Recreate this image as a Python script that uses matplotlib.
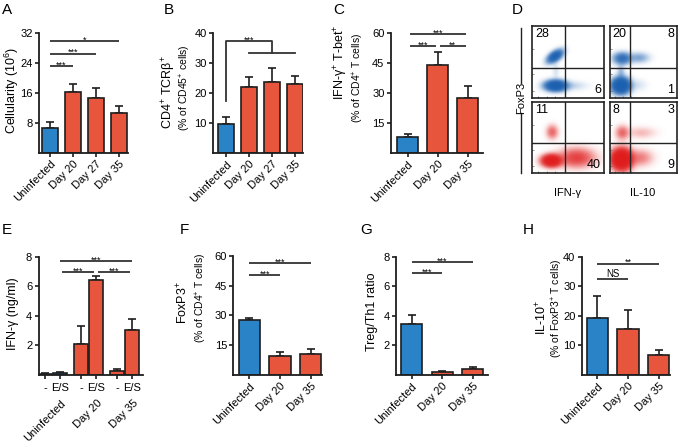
import matplotlib
matplotlib.use('Agg')
import matplotlib.pyplot as plt
import numpy as np
from matplotlib.colors import to_rgb
from matplotlib.transforms import blended_transform_factory

plt.rcParams['font.family'] = ['Liberation Sans', 'DejaVu Sans']
plt.rcParams['mathtext.fontset'] = 'custom'
plt.rcParams['mathtext.rm'] = 'Liberation Sans'
plt.rcParams['mathtext.it'] = 'Liberation Sans:italic'
plt.rcParams['mathtext.default'] = 'regular'

# ---------------- data ----------------
cats4 = ['Uninfected', 'Day 20', 'Day 27', 'Day 35']
cats3 = ['Uninfected', 'Day 20', 'Day 35']

a_vals = [6.5, 16.2, 14.7, 10.5]
a_errs = [1.6, 2.1, 2.7, 2.0]
a_yticks = [8, 16, 24, 32]

b_vals = [9.6, 22.0, 23.6, 23.0]
b_errs = [2.4, 3.2, 4.6, 2.5]
b_yticks = [10, 20, 30, 40]

c_vals = [8.2, 43.9, 27.4]
c_errs = [1.5, 6.6, 6.4]
c_yticks = [15, 30, 45, 60]

e_groups = ['Uninfected', 'Day 20', 'Day 35']
e_stim = ['-', 'E/S']
e_minus = [0.05, 2.1, 0.25]
e_minus_err = [0.03, 1.2, 0.12]
e_es = [0.10, 6.4, 3.0]
e_es_err = [0.06, 0.3, 0.8]
e_yticks = [2, 4, 6, 8]

f_vals = [27.6, 9.6, 10.6]
f_errs = [1.3, 1.9, 2.4]
f_yticks = [15, 30, 45, 60]

g_vals = [3.46, 0.20, 0.42]
g_errs = [0.62, 0.05, 0.12]
g_yticks = [2, 4, 6, 8]

h_vals = [19.3, 15.5, 6.8]
h_errs = [7.5, 6.5, 1.5]
h_yticks = [10, 20, 30, 40]

# significance: (from index, to index, height, label)
a_sig = [(0, 1, 23.2, '***'), (0, 2, 26.5, '***'), (0, 3, 29.8, '*')]
c_sig = [(0, 1, 53.8, '***'), (1, 2, 53.8, '**'), (0, 2, 59.5, '***')]
e_sig = [(0, 1, 6.95, '***'), (1, 2, 6.95, '***'), (0, 2, 7.73, '***')]
f_sig = [(0, 1, 50.5, '***'), (0, 2, 56.5, '***')]
g_sig = [(0, 1, 6.88, '***'), (0, 2, 7.62, '***')]
h_sig = [(0, 1, 32.4, 'NS'), (0, 2, 37.7, '**')]

# flow cytometry quadrant percentages
d_ifn_uninf = ['28', '', '', '6']      # TL, TR, BL, BR
d_il10_uninf = ['20', '8', '', '1']
d_ifn_inf = ['11', '', '', '40']
d_il10_inf = ['8', '3', '', '9']
# cluster descriptions: (cx, cy, sx, sy, angle, weight) in box fractions
d_cl_ifn_uninf = [(0.32, 0.58, 0.075, 0.04, 35, 2.2), (0.33, 0.17, 0.09, 0.045, 0, 3.0),
                  (0.58, 0.17, 0.12, 0.04, 0, 0.15), (0.33, 0.38, 0.03, 0.08, 0, 0.1)]
d_cl_il10_uninf = [(0.18, 0.55, 0.08, 0.05, 0, 1.3), (0.43, 0.56, 0.09, 0.045, 0, 0.45),
                   (0.16, 0.17, 0.08, 0.065, 0, 3.5), (0.16, 0.36, 0.035, 0.07, 0, 0.3),
                   (0.42, 0.18, 0.08, 0.05, 0, 0.1)]
d_cl_ifn_inf = [(0.28, 0.57, 0.05, 0.06, 0, 0.6), (0.27, 0.17, 0.08, 0.05, 0, 3.0),
                (0.62, 0.21, 0.15, 0.08, 0, 1.0)]
d_cl_il10_inf = [(0.18, 0.56, 0.06, 0.06, 0, 0.6), (0.46, 0.56, 0.13, 0.05, 0, 0.2),
                 (0.17, 0.19, 0.09, 0.085, 0, 4.0), (0.45, 0.21, 0.11, 0.07, 0, 0.45)]

BLUE = '#2a83c6'
RED = '#e8553d'
EDGE = '#1e1e1e'
FLOW_BLUE = '#1a5fb0'
FLOW_RED = '#e01c1c'

W, H = 682, 443
fig = plt.figure(figsize=(W / 100, H / 100), dpi=100)


def add_ax(l, t, r, b):
    return fig.add_axes([l / W, 1 - b / H, (r - l) / W, (b - t) / H])


def style(ax, yticks, ymax):
    for s in ['top', 'right']:
        ax.spines[s].set_visible(False)
    for s in ['left', 'bottom']:
        ax.spines[s].set_linewidth(1.3)
        ax.spines[s].set_color(EDGE)
    ax.set_ylim(0, ymax)
    ax.set_yticks(yticks)
    ax.set_yticklabels([str(v) for v in yticks])
    ax.tick_params(direction='out', length=3, width=1.2, labelsize=8, pad=1.5, color=EDGE)
    ax.patch.set_alpha(0)


def sig(ax, x1, x2, y, label, shrink=0.0):
    ax.plot([x1 + shrink, x2 - shrink], [y, y], color='#333333', lw=1.3,
            solid_capstyle='butt', clip_on=False)
    if label == 'NS':
        ax.annotate(label, xy=((x1 + x2) / 2, y), xytext=(0, 1.5), textcoords='offset points',
                    ha='center', va='baseline', fontsize=7)
    else:
        ax.annotate(label, xy=((x1 + x2) / 2, y), xytext=(0, -1.2), textcoords='offset points',
                    ha='center', va='baseline', fontsize=6.5)


def bar_panel(l, t, r, b, x0px, step, cats, vals, errs, colors, yticks, sigs, shrink=0.0):
    ax = add_ax(l, t, r, b)
    n = len(vals)
    xs = np.arange(n)
    xlo = -(x0px - l) / step
    xhi = xlo + (r - l) / step
    ax.set_xlim(xlo, xhi)
    ax.errorbar(xs, vals, yerr=[np.zeros(n), errs], fmt='none', ecolor=EDGE,
                elinewidth=1.2, capsize=3, capthick=1.2, zorder=1)
    ax.bar(xs, vals, width=0.7, color=colors, edgecolor=EDGE, linewidth=1.2, zorder=2)
    style(ax, yticks, yticks[-1])
    ax.set_xticks(xs)
    ax.set_xticklabels(cats, rotation=45, ha='right', rotation_mode='anchor', fontsize=8)
    for (i, j, y, lab) in sigs:
        sig(ax, xs[i], xs[j], y, lab, shrink)
    return ax


def ylab(x, y, s, fs=9):
    fig.text(x / W, 1 - y / H, s, rotation=90, ha='center', va='center', fontsize=fs)


def letter(x, y, s):
    fig.text(x / W, 1 - y / H, s, ha='left', va='top', fontsize=11)


# ---------------- A ----------------
axA = bar_panel(39, 33, 128, 152.5, 50, 23, cats4, a_vals, a_errs,
                [BLUE, RED, RED, RED], a_yticks, a_sig)
ylab(12, 90, 'Cellularity (10$^{6}$)')

# ---------------- B ----------------
axB = bar_panel(213, 33, 303, 152.7, 226, 23, cats4, b_vals, b_errs,
                [BLUE, RED, RED, RED], b_yticks, [])
axB.plot([0, 0, 2, 2], [17.3, 37.3, 37.3, 33.4], color='#333333', lw=1.3, clip_on=False)
axB.plot([1, 3], [33.4, 33.4], color='#333333', lw=1.3, clip_on=False)
axB.annotate('***', xy=(1, 37.3), xytext=(0, -1.2), textcoords='offset points',
             ha='center', va='baseline', fontsize=6.5)
ylab(169, 92, 'CD4$^{+}$ TCRβ$^{+}$')
ylab(185, 88, '(% of CD45$^{+}$ cells)', fs=7.5)

# ---------------- C ----------------
axC = bar_panel(390.7, 33.3, 483.3, 153, 407.7, 30, cats3, c_vals, c_errs,
                [BLUE, RED, RED], c_yticks, c_sig, shrink=0.06)
ylab(341, 62, 'IFN-γ$^{+}$ T-bet$^{+}$')
ylab(358, 78, '(% of CD4$^{+}$ T cells)', fs=7.5)

# ---------------- D ----------------
def flow_box(l, t, r, b, clusters, color, qx, qy, nums):
    ax = add_ax(l, t, r, b)
    g = np.linspace(0, 1, 260)
    X, Y = np.meshgrid(g, g)
    D = np.zeros_like(X)
    for (cx, cy, sx, sy, ang, w) in clusters:
        th = np.deg2rad(ang)
        dx, dy = X - cx, Y - cy
        u = dx * np.cos(th) + dy * np.sin(th)
        v = -dx * np.sin(th) + dy * np.cos(th)
        D += w * np.exp(-0.5 * ((u / sx) ** 2 + (v / sy) ** 2))
    rgba = np.zeros(X.shape + (4,))
    rgba[..., :3] = to_rgb(color)
    rgba[..., 3] = 1 - np.exp(-1.8 * D)
    ax.imshow(rgba, extent=[0, 1, 0, 1], origin='lower', aspect='auto', interpolation='bilinear')
    ax.set_xlim(0, 1)
    ax.set_ylim(0, 1)
    ax.axvline(qx, color='#222222', lw=1.0)
    ax.axhline(qy, color='#222222', lw=1.0)
    for s in ax.spines.values():
        s.set_linewidth(1.2)
        s.set_color('#222222')
    ax.set_xticks([0.08, 0.2, 0.32])
    ax.set_yticks([0.1, 0.33, 0.68])
    ax.set_xticklabels([])
    ax.set_yticklabels([])
    ax.tick_params(direction='in', length=1.5, width=0.5, color='#666666')
    tl, tr, bl, br = nums
    kw = dict(fontsize=9, transform=ax.transAxes)
    if tl:
        ax.text(0.04, 0.97, tl, ha='left', va='top', **kw)
    if tr:
        ax.text(0.96, 0.97, tr, ha='right', va='top', **kw)
    if br:
        ax.text(0.96, 0.03, br, ha='right', va='bottom', **kw)
    return ax


flow_box(532.3, 26, 604, 97.7, d_cl_ifn_uninf, FLOW_BLUE, 0.456, 0.41, d_ifn_uninf)
flow_box(609.5, 26, 677, 97.7, d_cl_il10_uninf, FLOW_BLUE, 0.31, 0.41, d_il10_uninf)
flow_box(532.3, 102.3, 604, 173.3, d_cl_ifn_inf, FLOW_RED, 0.456, 0.42, d_ifn_inf)
flow_box(609.5, 102.3, 677, 173.3, d_cl_il10_inf, FLOW_RED, 0.31, 0.42, d_il10_inf)

lineD = fig.add_axes([0, 0, 1, 1])
lineD.set_xlim(0, W)
lineD.set_ylim(H, 0)
lineD.axis('off')
lineD.plot([521, 521], [28, 83], color='#222222', lw=1.0)
lineD.plot([521, 521], [113, 173], color='#222222', lw=1.0)
lineD.text(521, 98, 'FoxP3', rotation=90, ha='center', va='center', fontsize=8)
lineD.text(568, 193, 'IFN-γ', ha='center', va='center', fontsize=8)
lineD.text(643, 193, 'IL-10', ha='center', va='center', fontsize=8)

# ---------------- E ----------------
axE = add_ax(38.5, 256.7, 143.3, 374.5)
gx = np.arange(len(e_groups))
step = 36
xlo = -(52.5 - 38.5) / step
axE.set_xlim(xlo, xlo + (143.3 - 38.5) / step)
off, wd = 0.21, 0.37
xm, xe = gx - off, gx + off
axE.errorbar(xm, e_minus, yerr=[np.zeros(3), e_minus_err], fmt='none', ecolor=EDGE,
             elinewidth=1.2, capsize=3, capthick=1.2, zorder=1)
axE.errorbar(xe, e_es, yerr=[np.zeros(3), e_es_err], fmt='none', ecolor=EDGE,
             elinewidth=1.2, capsize=3, capthick=1.2, zorder=1)
ecols = [BLUE, RED, RED]
axE.bar(xm, e_minus, width=wd, color=ecols, edgecolor=EDGE, linewidth=1.2, zorder=2)
axE.bar(xe, e_es, width=wd, color=ecols, edgecolor=EDGE, linewidth=1.2, zorder=2)
style(axE, e_yticks, 8)
allx = np.ravel(np.column_stack([xm, xe]))
axE.set_xticks(allx)
axE.set_xticklabels(e_stim * 3, fontsize=8)
axE.tick_params(axis='x', pad=3)
for (i, j, y, lab) in e_sig:
    sig(axE, xe[i], xe[j], y, lab, shrink=0.05 if j - i == 1 else 0.0)
tr = blended_transform_factory(axE.transData, axE.transAxes)
for k, gname in enumerate(e_groups):
    axE.text(xe[k] + 0.02, -(398 - 374.5) / (374.5 - 256.7), gname, transform=tr,
             rotation=45, ha='right', va='top', rotation_mode='anchor', fontsize=8)
ylab(13, 314, 'IFN-γ (ng/ml)')

# ---------------- F ----------------
axF = bar_panel(233.3, 255.7, 321.7, 375, 249.3, 30.7, cats3, f_vals, f_errs,
                [BLUE, RED, RED], f_yticks, f_sig)
ylab(183, 303, 'FoxP3$^{+}$')
ylab(201, 298, '(% of CD4$^{+}$ T cells)', fs=7.5)

# ---------------- G ----------------
axG = bar_panel(396, 256.7, 488.3, 375, 411.7, 30.5, cats3, g_vals, g_errs,
                [BLUE, RED, RED], g_yticks, g_sig)
ylab(372, 312, 'Treg/Th1 ratio')

# ---------------- H ----------------
axH = bar_panel(581.7, 256.7, 670, 375, 597.3, 30.7, cats3, h_vals, h_errs,
                [BLUE, RED, RED], h_yticks, h_sig)
ylab(542, 317, 'IL-10$^{+}$')
ylab(557, 308, '(% of FoxP3$^{+}$ T cells)', fs=7.5)

# panel letters
for (x, y, s) in [(2, 3, 'A'), (164, 3, 'B'), (333, 3, 'C'), (512, 3, 'D'),
                  (2, 223, 'E'), (180, 223, 'F'), (360, 223, 'G'), (523, 223, 'H')]:
    letter(x, y, s)

fig.savefig('out.png', dpi=100)
